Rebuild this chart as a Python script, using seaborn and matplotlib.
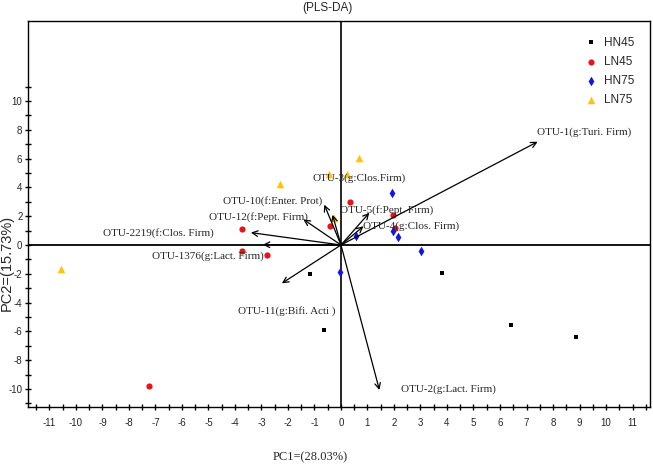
import matplotlib
matplotlib.use('Agg')
import matplotlib.pyplot as plt
import seaborn as sns
import pandas as pd
import numpy as np

# ---------------- data ----------------
groups = ['HN45', 'LN45', 'HN75', 'LN75']

hn45_x = [-1.16, -0.63, 3.83, 6.42, 8.87]
hn45_y = [-2.04, -5.90, -1.97, -5.56, -6.41]

ln45_x = [-7.23, -3.75, -3.75, -2.78, -0.42, 0.34, 1.95, 2.03]
ln45_y = [-9.77, 1.11, -0.40, -0.72, 1.34, 3.00, 2.08, 1.18]

hn75_x = [1.92, 1.97, 2.14, 0.57, 3.02, -0.04]
hn75_y = [3.59, 0.99, 0.53, 0.60, -0.42, -1.90]

ln75_x = [-10.57, -2.30, -0.47, 0.21, 0.69, -0.28]
ln75_y = [-1.67, 4.24, 4.90, 4.90, 6.07, 1.87]

otu_names = ['OTU-1(g:Turi. Firm)', 'OTU-2(g:Lact. Firm)', 'OTU-11(g:Bifi. Acti )',
             'OTU-1376(g:Lact. Firm)', 'OTU-2219(f:Clos. Firm)', 'OTU-12(f:Pept. Firm)',
             'OTU-10(f:Enter. Prot)', 'OTU-3(g:Clos.Firm)', 'OTU-5(f:Pept. Firm)',
             'OTU-4(g:Clos. Firm)']
loading_x = [7.42, 1.45, -2.23, -2.95, -3.40, -1.42, -0.63, -0.32, 1.07, 0.85]
loading_y = [7.17, -10.07, -2.66, 0.02, 0.86, 1.78, 2.80, 2.10, 2.24, 1.30]

# label anchor (left, center) for each loading label
label_x = [7.40, 2.26, -3.90, -7.12, -8.97, -4.97, -4.47, -1.07, -0.04, 0.84]
label_y = [7.80, -10.00, -4.56, -0.81, 0.83, 1.97, 3.05, 4.63, 2.43, 1.32]

x_ticks = list(range(-11, 12))
y_ticks = list(range(-10, 11, 2))

# ---------------- frame ----------------
df = pd.concat([
    pd.DataFrame({'PC1': hn45_x, 'PC2': hn45_y, 'group': 'HN45'}),
    pd.DataFrame({'PC1': ln45_x, 'PC2': ln45_y, 'group': 'LN45'}),
    pd.DataFrame({'PC1': hn75_x, 'PC2': hn75_y, 'group': 'HN75'}),
    pd.DataFrame({'PC1': ln75_x, 'PC2': ln75_y, 'group': 'LN75'}),
], ignore_index=True)

sns.set_style('white')
narrow = ['Liberation Sans Narrow', 'Liberation Sans', 'DejaVu Sans']
serif = ['Liberation Serif', 'DejaVu Serif']
plt.rcParams['font.family'] = narrow

fig = plt.figure(figsize=(6.53, 4.65), dpi=100)
ax = fig.add_axes([28/653, (465-407)/465, 622/653, (407-21.5)/465])

colors = {'HN45': '#000000', 'LN45': '#E8121A', 'HN75': '#1414E6', 'LN75': '#FFC20E'}
markers = {'HN45': 's', 'LN45': 'o', 'HN75': 'd', 'LN75': '^'}
sizes = {'HN45': 12, 'LN45': 20, 'HN75': 24, 'LN75': 30}

for g in groups:
    sub = df[df['group'] == g]
    sns.scatterplot(data=sub, x='PC1', y='PC2', ax=ax, color=colors[g],
                    marker=markers[g], s=sizes[g], linewidth=0, label=g, zorder=3)

ax.axhline(0, color='black', lw=1.3, zorder=1)
ax.axvline(0, color='black', lw=1.2, zorder=1)

for nm, ex, ey, lx, ly in zip(otu_names, loading_x, loading_y, label_x, label_y):
    ax.annotate('', xy=(ex, ey), xytext=(0, 0),
                arrowprops=dict(arrowstyle='->', color='black', lw=0.9,
                                shrinkA=0, shrinkB=0, mutation_scale=10), zorder=4)
    ax.text(lx, ly, nm, fontsize=8, family=serif, ha='left', va='center', zorder=5)

ax.set_xlim(-11.81, 11.66)
ax.set_ylim(-11.25, 15.52)

ax.set_xticks(x_ticks)
ax.set_xticklabels([str(t) for t in x_ticks])
ax.set_xticks(np.arange(-11.5, 12, 1.0), minor=True)
ax.set_yticks(y_ticks)
ax.set_yticklabels([str(t) for t in y_ticks])
ax.set_yticks(list(range(-11, 12, 2)), minor=True)

ax.tick_params(axis='both', which='both', direction='inout', length=4, width=1,
               color='black', bottom=True, left=True, top=False, right=False)
ax.tick_params(axis='x', which='major', labelsize=7, pad=6)
ax.tick_params(axis='y', which='major', labelsize=7, pad=2)

for sp in ax.spines.values():
    sp.set_visible(True)
    sp.set_color('black')
    sp.set_linewidth(1.0)

ax.set_xlabel('PC1=(28.03%)', fontsize=9, family=serif)
ax.xaxis.set_label_coords((310-28)/622, (407-451)/386)
ax.set_ylabel('PC2=(15.73%)', fontsize=10.5, family=['Liberation Sans', 'DejaVu Sans'])
ax.yaxis.set_label_coords((14-28)/622, (407-263)/386)

fig.text(327/653, 1 - 8/465, '(PLS-DA)', fontsize=8.5, ha='center', va='center')

leg = ax.legend(loc='upper left', bbox_to_anchor=(0.8955, 0.961), frameon=False,
                fontsize=8.5, handlelength=1.0, handletextpad=0.6, labelspacing=0.6,
                borderpad=0, borderaxespad=0, markerscale=1.0)

ax.grid(False)
fig.savefig('out.png', dpi=100)
